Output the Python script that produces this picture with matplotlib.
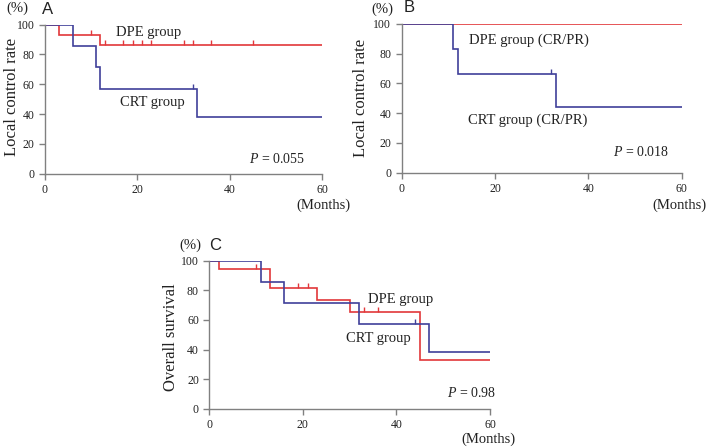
import matplotlib
matplotlib.use("Agg")
import matplotlib.pyplot as plt
import numpy as np

# ---- data ----
# Panel A: local control rate
a_dpe_t = [0, 3, 12, 60]
a_dpe_s = [100, 93.3, 86.7, 86.7]
a_dpe_cens = [10, 13, 17, 19, 21, 23, 30, 32, 36, 45]
a_crt_t = [0, 6, 11, 12, 33, 60]
a_crt_s = [100, 85.7, 71.4, 57.1, 38.1, 38.1]
a_crt_cens = [32]

# Panel B: local control rate (CR/PR)
b_dpe_t = [0, 60]
b_dpe_s = [100, 100]
b_dpe_cens = []
b_crt_t = [0, 11, 12, 33, 60]
b_crt_s = [100, 83.3, 66.7, 44.4, 44.4]
b_crt_cens = [32]

# Panel C: overall survival
c_dpe_t = [0, 2, 13, 23, 30, 45, 60]
c_dpe_s = [100, 94.1, 81.5, 73.5, 65.3, 32.7, 32.7]
c_dpe_cens = [10, 19, 21, 33, 36]
c_crt_t = [0, 11, 16, 32, 47, 60]
c_crt_s = [100, 85.7, 71.4, 57.1, 38.1, 38.1]
c_crt_cens = [44]

x_ticks = [0, 20, 40, 60]
y_ticks = [0, 20, 40, 60, 80, 100]

RED = "#e2373a"
BLUE = "#40409a"
SPINE = "#808080"
TXT = "#222222"
SERIF = ["Liberation Serif", "DejaVu Serif"]
SANS = ["Liberation Sans", "DejaVu Sans"]

plt.rcParams["font.family"] = SERIF
plt.rcParams["mathtext.fontset"] = "custom"
plt.rcParams["mathtext.it"] = "Liberation Serif:italic"
plt.rcParams["mathtext.rm"] = "Liberation Serif"

W, H = 709, 448
fig = plt.figure(figsize=(W / 100, H / 100), dpi=100)

censor_marker = [(0, 0), (0, 1)]


def ptext(x, y, s, **kw):
    """Text at pixel position (from top-left)."""
    kw.setdefault("ha", "center")
    kw.setdefault("va", "center")
    kw.setdefault("color", TXT)
    return fig.text(x / W, 1 - y / H, s, **kw)


def level_at(t, times, surv):
    idx = np.searchsorted(times, t, side="right") - 1
    return np.asarray(surv)[idx]


def km(ax, times, surv, cens, color):
    ax.plot(times, surv, drawstyle="steps-post", color=color, lw=1.2,
            solid_joinstyle="miter")
    if cens:
        lv = [level_at(c, times, surv) for c in cens]
        ax.plot(cens, lv, linestyle="none", marker=censor_marker,
                markersize=7, color=color, markeredgewidth=1.0)


def setup(ax):
    ax.set_xlim(0, 60)
    ax.set_ylim(0, 100)
    ax.set_xticks(x_ticks)
    ax.set_yticks(y_ticks)
    for s in ["top", "right"]:
        ax.spines[s].set_visible(False)
    for s in ["left", "bottom"]:
        ax.spines[s].set_color(SPINE)
        ax.spines[s].set_linewidth(1.0)
    ax.tick_params(axis="both", colors=SPINE, labelcolor=TXT,
                   labelsize=8.5, length=4, width=1.0, direction="out")


# Panel A
axA = fig.add_axes([45 / W, 1 - 173.7 / H, 277 / W, 149 / H])
km(axA, a_dpe_t, a_dpe_s, a_dpe_cens, RED)
km(axA, a_crt_t, a_crt_s, a_crt_cens, BLUE)
setup(axA)
axA.text(22.5, 95, "DPE group", fontsize=10.5, ha="center", va="center", color=TXT)
axA.text(23.2, 48, "CRT group", fontsize=10.5, ha="center", va="center", color=TXT)
axA.text(50.2, 9.7, "$\\it{P}$ = 0.055", fontsize=10, ha="center", va="center", color=TXT)
ptext(12, 97, "Local control rate", fontsize=12, rotation=90)
ptext(17.5, 8, "(%)", fontsize=10.5)
ptext(47.5, 9, "A", fontsize=12, family=SANS)
ptext(323, 205.5, "(Months)", fontsize=10.5)

# Panel B
axB = fig.add_axes([401.7 / W, 1 - 172.7 / H, 280 / W, 148.7 / H])
km(axB, b_dpe_t, b_dpe_s, b_dpe_cens, RED)
km(axB, b_crt_t, b_crt_s, b_crt_cens, BLUE)
setup(axB)
axB.text(27.2, 89.2, "DPE group (CR/PR)", fontsize=10.5, ha="center", va="center", color=TXT)
axB.text(27.1, 35, "CRT group (CR/PR)", fontsize=10.5, ha="center", va="center", color=TXT)
axB.text(51.2, 14.1, "$\\it{P}$ = 0.018", fontsize=10, ha="center", va="center", color=TXT)
ptext(361, 98, "Local control rate", fontsize=12, rotation=90)
ptext(382.5, 9, "(%)", fontsize=10.5)
ptext(409.5, 8, "B", fontsize=12, family=SANS)
ptext(679, 205, "(Months)", fontsize=10.5)

# Panel C
axC = fig.add_axes([209.3 / W, 1 - 408.7 / H, 280.7 / W, 148 / H])
km(axC, c_dpe_t, c_dpe_s, c_dpe_cens, RED)
km(axC, c_crt_t, c_crt_s, c_crt_cens, BLUE)
setup(axC)
axC.text(40.8, 73.9, "DPE group", fontsize=10.5, ha="center", va="center", color=TXT)
axC.text(36.1, 47.1, "CRT group", fontsize=10.5, ha="center", va="center", color=TXT)
axC.text(56.1, 10.4, "$\\it{P}$ = 0.98", fontsize=10, ha="center", va="center", color=TXT)
ptext(170.7, 337.5, "Overall survival", fontsize=12, rotation=90)
ptext(190.7, 245, "(%)", fontsize=10.5)
ptext(215.5, 245, "C", fontsize=12, family=SANS)
ptext(488, 439, "(Months)", fontsize=10.5)

fig.savefig("out.png", dpi=100)
